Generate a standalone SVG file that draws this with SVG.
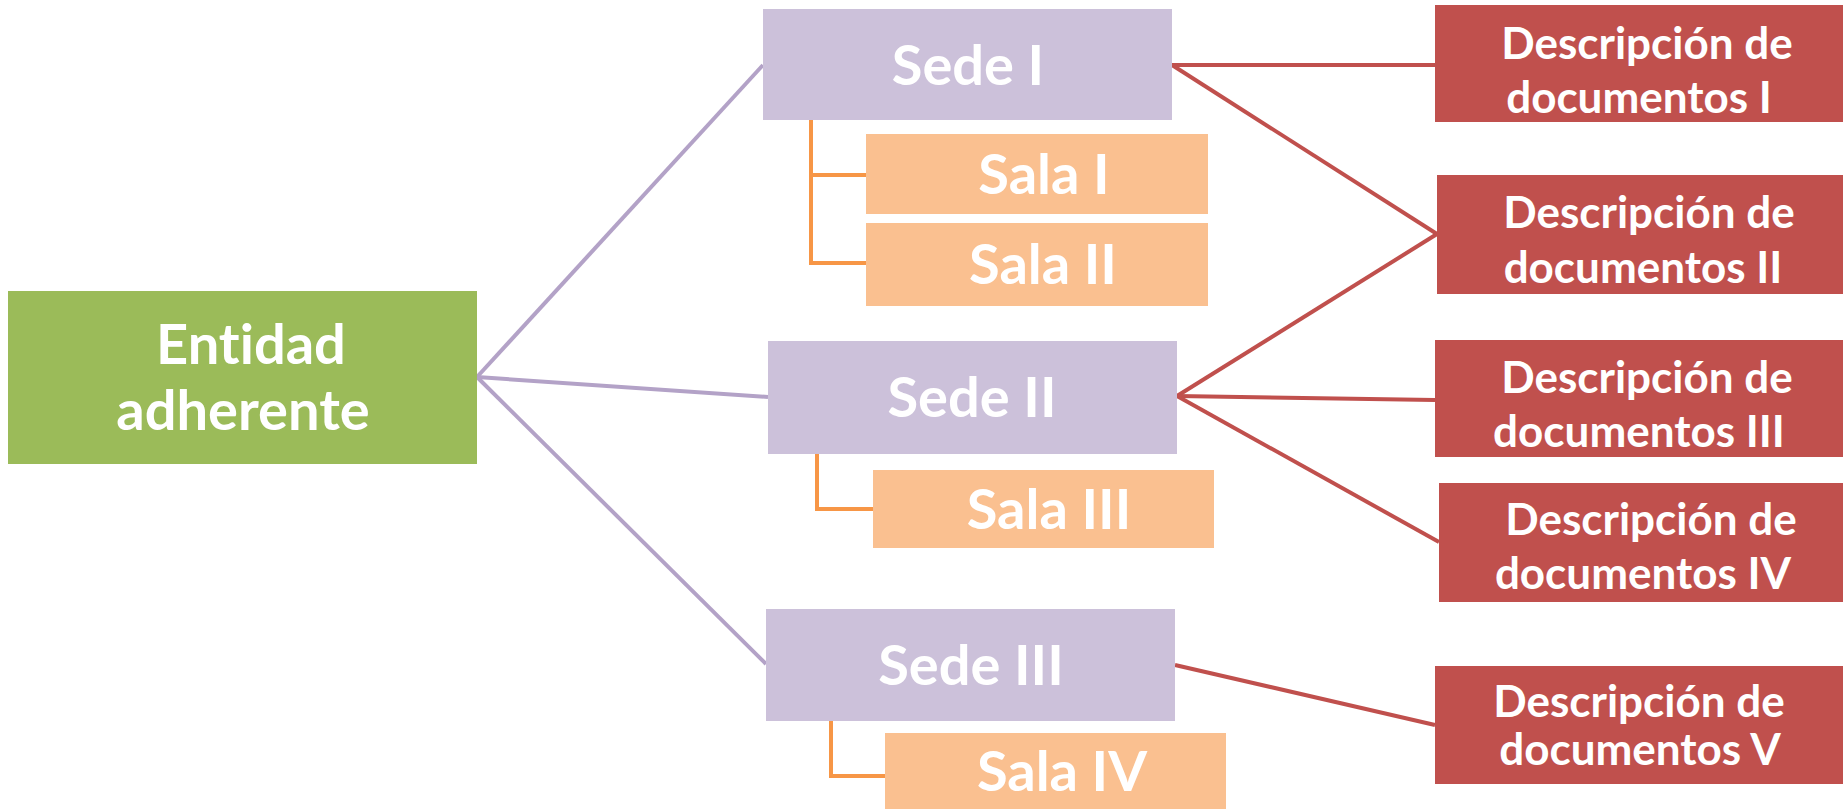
<svg xmlns="http://www.w3.org/2000/svg" width="1843" height="809" viewBox="0 0 1843 809">
<style>
text{font-family:Lato,"Open Sans","Liberation Sans",sans-serif;font-weight:bold;fill:#ffffff;text-anchor:middle;font-variant-ligatures:none;font-feature-settings:"liga" 0}
.big{font-size:56px}
.desc{font-size:44px}
.green{fill:#9BBB59}
.sede{fill:#CCC1DA}
.sala{fill:#FAC090}
.red{fill:#C0504D}
.lp{stroke:#B3A2C7;stroke-width:4;fill:none}
.lr{stroke:#C0504D;stroke-width:4;fill:none}
.lo{stroke:#F79646;stroke-width:4;fill:none}
</style>
<rect width="1843" height="809" fill="#ffffff"/>
<g id="connectors">
<line class="lp" x1="477" y1="377" x2="763" y2="65"/>
<line class="lp" x1="477" y1="377" x2="768" y2="397"/>
<line class="lp" x1="477" y1="377" x2="766" y2="664"/>
<line class="lr" x1="1172" y1="65" x2="1435" y2="65"/>
<line class="lr" x1="1172" y1="65" x2="1437" y2="234"/>
<line class="lr" x1="1177" y1="396" x2="1437" y2="234"/>
<line class="lr" x1="1177" y1="396" x2="1435" y2="400"/>
<line class="lr" x1="1177" y1="396" x2="1439" y2="542"/>
<line class="lr" x1="1175" y1="665" x2="1435" y2="725"/>
<polyline class="lo" points="811,120 811,263 866,263"/>
<line class="lo" x1="811" y1="175" x2="866" y2="175"/>
<polyline class="lo" points="817,454 817,509 873,509"/>
<polyline class="lo" points="831,721 831,776 885,776"/>
</g>
<g id="entidad">
<rect class="green" x="8" y="291" width="469" height="173"/>
<text class="big" x="251" y="364">Entidad</text>
<text class="big" x="243" y="430">adherente</text>
</g>
<g id="sede1">
<rect class="sede" x="763" y="9" width="409" height="111"/>
<text class="big" x="968" y="85">Sede I</text>
</g>
<g id="sala1">
<rect class="sala" x="866" y="134" width="342" height="80"/>
<text class="big" x="1044" y="194">Sala I</text>
</g>
<g id="sala2">
<rect class="sala" x="866" y="223" width="342" height="83"/>
<text class="big" x="1043" y="284">Sala II</text>
</g>
<g id="sede2">
<rect class="sede" x="768" y="341" width="409" height="113"/>
<text class="big" x="972" y="417">Sede II</text>
</g>
<g id="sala3">
<rect class="sala" x="873" y="470" width="341" height="78"/>
<text class="big" x="1049" y="529">Sala III</text>
</g>
<g id="sede3">
<rect class="sede" x="766" y="609" width="409" height="112"/>
<text class="big" x="971" y="685">Sede III</text>
</g>
<g id="sala4">
<rect class="sala" x="885" y="733" width="341" height="76"/>
<text class="big" x="1062" y="791">Sala IV</text>
</g>
<g id="desc1">
<rect class="red" x="1435" y="5" width="408" height="117"/>
<text class="desc" x="1647" y="59">Descripción de</text>
<text class="desc" x="1639" y="113">documentos I</text>
</g>
<g id="desc2">
<rect class="red" x="1437" y="175" width="406" height="119"/>
<text class="desc" x="1649" y="228">Descripción de</text>
<text class="desc" x="1643" y="283">documentos II</text>
</g>
<g id="desc3">
<rect class="red" x="1435" y="340" width="408" height="117"/>
<text class="desc" x="1647" y="393">Descripción de</text>
<text class="desc" x="1639" y="447">documentos III</text>
</g>
<g id="desc4">
<rect class="red" x="1439" y="483" width="404" height="119"/>
<text class="desc" x="1651" y="535">Descripción de</text>
<text class="desc" x="1643" y="589">documentos IV</text>
</g>
<g id="desc5">
<rect class="red" x="1435" y="666" width="408" height="118"/>
<text class="desc" x="1639" y="717">Descripción de</text>
<text class="desc" x="1640" y="765">documentos V</text>
</g>
</svg>
